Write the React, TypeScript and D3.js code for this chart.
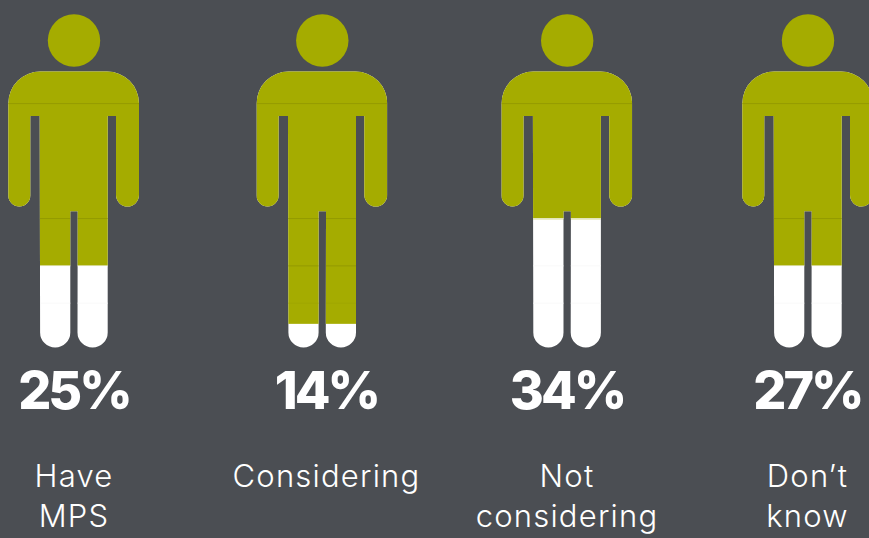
import React from "react";
import * as d3 from "d3";

const width = 869;
const height = 538;

const percents = ["25%", "14%", "34%", "27%"];
const labels = [["Have", "MPS"], ["Considering"], ["Not", "considering"], ["Don\u2019t", "know"]];
// white share of the figure's height
const whiteShare = [24.5, 7.1, 38.5, 24.5];
// seam lines in the artwork, as share of figure height from the feet
const seams = [73.2, 38.7, 24.5];
const faintSeams = [13.3];
const figureCenters = [74, 322.3, 567.2, 808];
const labelCenters = [74, 326.5, 567, 807.5];

const GREEN = "#a5ac00";
const BG = "#4b4e53";

const y = d3.scaleLinear().domain([0, 100]).range([347.5, 14.3]);

// figure outline, centred on x = 0
function bodyPath() {
  const p = d3.path();
  const top = 71.5;
  const armGapTop = 116;
  const armEnd = 206.5;
  const legGapTop = 211.3;
  const feet = 347.5;
  const legR = 15.1;
  p.moveTo(-33.7, top);
  p.lineTo(33, top);
  p.arcTo(65, top, 65, top + 32, 32);
  p.lineTo(65, armEnd - 11.5);
  p.arc(53.5, armEnd - 11.5, 11.5, 0, Math.PI);
  p.lineTo(42, armGapTop);
  p.lineTo(33.7, armGapTop);
  p.lineTo(33.7, feet - legR);
  p.arc(18.6, feet - legR, legR, 0, Math.PI);
  p.lineTo(3.7, legGapTop);
  p.lineTo(-3.7, legGapTop);
  p.lineTo(-3.7, feet - legR);
  p.arc(-18.8, feet - legR, legR, 0, Math.PI);
  p.lineTo(-34.3, armGapTop);
  p.lineTo(-43.7, armGapTop);
  p.lineTo(-43.7, armEnd - 11);
  p.arc(-54.7, armEnd - 11, 11, 0, Math.PI);
  p.lineTo(-65.7, top + 32);
  p.arcTo(-65.7, top, -33.7, top, 32);
  p.closePath();
  return p.toString();
}

const App = () => {
  const body = bodyPath();
  return (
    <svg
      width={width}
      height={height}
      viewBox={`0 0 ${width} ${height}`}
      style={{ position: "absolute", left: 0, top: 0, background: BG }}
    >
      <defs>
        <clipPath id="body-clip">
          <path d={body} />
        </clipPath>
      </defs>
      {percents.map((pct, i) => {
        const cx = figureCenters[i];
        const level = y(whiteShare[i]);
        return (
          <g key={pct}>
            <g transform={`translate(${cx},0)`}>
              <circle cx={0} cy={40.5} r={26.2} fill={GREEN} />
              <g clipPath="url(#body-clip)">
                <rect x={-70} y={60} width={140} height={300} fill="#ffffff" />
                <rect x={-70} y={60} width={140} height={level - 60} fill={GREEN} />
                {seams.map((s) => (
                  <line
                    key={s}
                    x1={-70}
                    x2={70}
                    y1={y(s)}
                    y2={y(s)}
                    stroke={y(s) < level - 1 ? "#8f9600" : "#f8f8f8"}
                    strokeWidth={0.8}
                  />
                ))}
                {faintSeams.map((s) => (
                  <line
                    key={s}
                    x1={-70}
                    x2={70}
                    y1={y(s)}
                    y2={y(s)}
                    stroke={y(s) < level ? "#9fa600" : "#f8f8f8"}
                    strokeWidth={0.8}
                  />
                ))}
              </g>
            </g>
            <text
              x={labelCenters[i]}
              y={408.5}
              textAnchor="middle"
              fill="#ffffff"
              fontFamily="Inter, sans-serif"
              fontWeight={800}
              fontSize={52}
              letterSpacing={-3}
            >
              {pct}
            </text>
            {labels[i].map((line, j) => (
              <text
                key={line}
                x={labelCenters[i]}
                y={487 + j * 40}
                textAnchor="middle"
                fill="#ffffff"
                fontFamily="Inter, sans-serif"
                fontWeight={300}
                fontSize={31}
                letterSpacing={1.2}
              >
                {line}
              </text>
            ))}
          </g>
        );
      })}
    </svg>
  );
};

export default App;
